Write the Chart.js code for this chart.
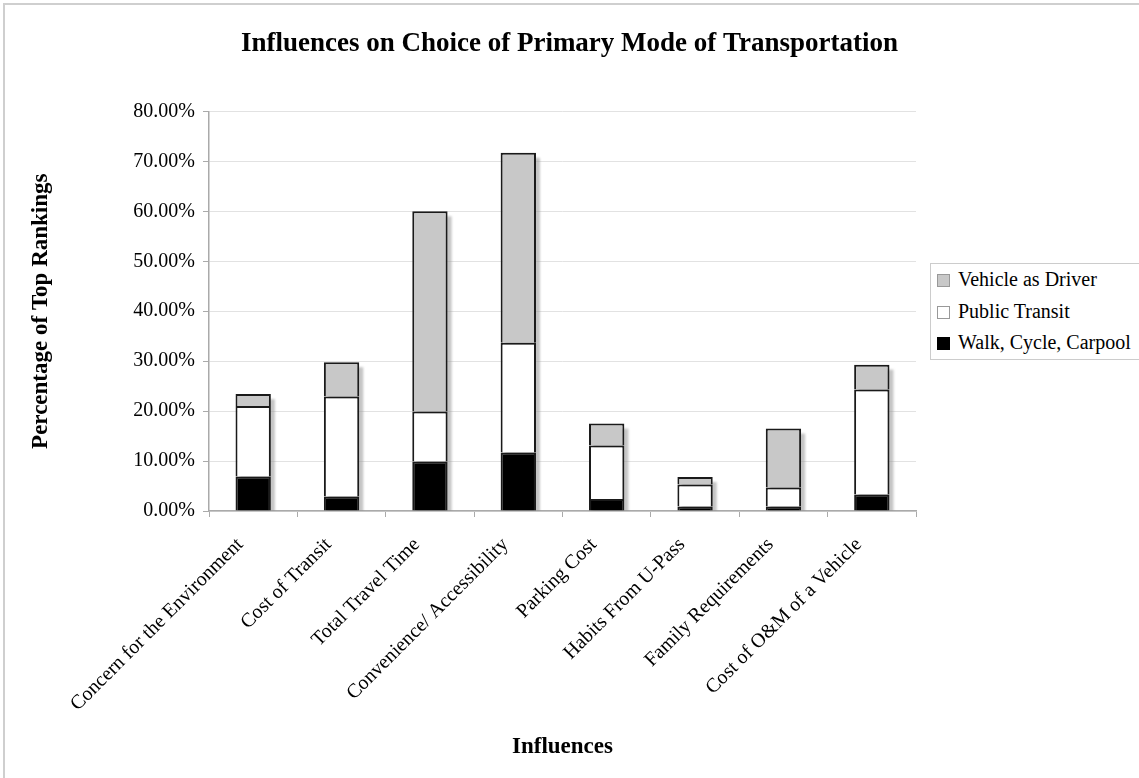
<!DOCTYPE html>
<html>
<head>
<meta charset="utf-8">
<script src="https://cdn.jsdelivr.net/npm/chart.js@4/dist/chart.umd.min.js"></script>
<style>
  html, body { margin: 0; padding: 0; background: #ffffff; }
  #wrap { position: relative; width: 1139px; height: 778px; overflow: hidden; background: #fff; }
  #frame { position: absolute; left: 3px; top: 3px; width: 1200px; height: 900px;
           border-left: 2px solid #cfcfcf; border-top: 2px solid #cfcfcf; }
  canvas { position: absolute; left: 0; top: 0; }
  #legend { position: absolute; left: 930px; top: 263px; width: 240px; height: 95px;
            border: 1px solid #cccccc; background: #fff;
            font-family: "Liberation Serif", "Times New Roman", serif; font-size: 20px; color: #000; }
  #legend .item { position: absolute; left: 6px; height: 22px; line-height: 22px; white-space: nowrap; }
  #legend .box { display: inline-block; width: 13px; height: 13px; vertical-align: -1px; margin-right: 8px; box-sizing: border-box; }
</style>
</head>
<body>
<div id="wrap">
  <div id="frame"></div>
  <canvas id="c" width="1139" height="778"></canvas>
  <div id="legend"></div>
</div>
<script>
// Influence categories on the x axis
const categories = [
  'Concern for the Environment',
  'Cost of Transit',
  'Total Travel Time',
  'Convenience/ Accessibility',
  'Parking Cost',
  'Habits From U-Pass',
  'Family Requirements',
  'Cost of O&M of a Vehicle'
];

// Share of top rankings (percent) per mode, stacked bottom to top
const walkCycleCarpool = [6.9, 2.9, 9.9, 11.7, 2.4, 0.9, 0.9, 3.3];
const publicTransit    = [14.1, 20.0, 10.0, 22.0, 10.7, 4.4, 3.8, 21.0];
const vehicleAsDriver  = [2.4, 6.9, 40.1, 38.0, 4.4, 1.5, 11.8, 5.0];

// Value axis ticks
const yTicks = [0, 10, 20, 30, 40, 50, 60, 70, 80];

const serif = '"Liberation Serif", "Times New Roman", serif';

// Soft drop shadow behind each stacked column
const columnShadow = {
  id: 'columnShadow',
  beforeDatasetsDraw(chart) {
    const ctx = chart.ctx;
    const metas = chart.data.datasets.map((d, i) => chart.getDatasetMeta(i));
    const area = chart.chartArea;
    ctx.save();
    ctx.beginPath();
    ctx.rect(area.left, area.top, area.right - area.left + 10, area.bottom - area.top);
    ctx.clip();
    ctx.fillStyle = 'rgba(150,150,150,0.55)';
    ctx.filter = 'blur(1px)';
    categories.forEach((c, i) => {
      let top = Infinity, base = -Infinity, x = 0, w = 0;
      metas.forEach(m => {
        const el = m.data[i];
        if (!el) return;
        top = Math.min(top, el.y, el.base);
        base = Math.max(base, el.y, el.base);
        x = el.x; w = el.width;
      });
      ctx.fillRect(x - w / 2 + 4, top + 5, w, base - top);
    });
    ctx.restore();
  }
};

// Centre the chart title across the whole canvas rather than the plot side only
const centreTitle = {
  id: 'centreTitle',
  afterLayout(chart) {
    const t = chart.titleBlock;
    if (t) { t.left = 0; t.right = chart.width; t.width = chart.width; }
  }
};

const chart = new Chart(document.getElementById('c'), {
  type: 'bar',
  data: {
    labels: categories,
    datasets: [
      { label: 'Walk, Cycle, Carpool', data: walkCycleCarpool, backgroundColor: '#000000', borderColor: '#1a1a1a', borderWidth: 2 },
      { label: 'Public Transit', data: publicTransit, backgroundColor: '#ffffff', borderColor: '#1a1a1a', borderWidth: 2 },
      { label: 'Vehicle as Driver', data: vehicleAsDriver, backgroundColor: '#c8c8c8', borderColor: '#1a1a1a', borderWidth: 2 }
    ]
  },
  options: {
    responsive: false,
    animation: false,
    devicePixelRatio: 1,
    barPercentage: 0.4,
    categoryPercentage: 1.0,
    layout: { padding: { left: 0, right: 223, top: 0, bottom: 0 } },
    plugins: {
      legend: { display: false },
      tooltip: { enabled: false },
      title: {
        display: true,
        text: 'Influences on Choice of Primary Mode of Transportation',
        color: '#000',
        font: { family: serif, size: 27, weight: 'bold' },
        padding: { top: 28, bottom: 51 }
      }
    },
    scales: {
      x: {
        stacked: true,
        grid: { display: true, drawOnChartArea: false, drawTicks: true, tickLength: 6, offset: true, color: '#aaaaaa', lineWidth: 1 },
        border: { display: true, color: '#aaaaaa', width: 1.5 },
        ticks: { color: '#000', font: { family: serif, size: 20 }, maxRotation: 45, minRotation: 45, padding: 16, labelOffset: -13, autoSkip: false },
        title: { display: true, text: 'Influences', color: '#000', font: { family: serif, size: 23, weight: 'bold' }, padding: { top: 0, bottom: 17 } },
        afterFit(scale) { scale.height = 267; }
      },
      y: {
        stacked: true,
        min: 0,
        max: 80,
        afterBuildTicks(scale) { scale.ticks = yTicks.map(v => ({ value: v })); },
        grid: { color: '#e2e2e2', lineWidth: 1, tickLength: 6, tickColor: '#aaaaaa' },
        border: { display: true, color: '#aaaaaa', width: 1.5 },
        ticks: { color: '#000', font: { family: serif, size: 20 }, padding: 8,
                 callback: v => Number(v).toFixed(2) + '%' },
        title: { display: true, text: 'Percentage of Top Rankings', color: '#000', font: { family: serif, size: 23, weight: 'bold' }, padding: { top: 27, bottom: 0 } },
        afterFit(scale) { scale.width = 209; }
      }
    }
  },
  plugins: [columnShadow, centreTitle]
});

// Legend built from the chart's datasets, top series first
const legendEl = document.getElementById('legend');
const legendBorders = ['#000000', '#999999', '#999999'];
chart.data.datasets.slice().reverse().forEach((ds, k) => {
  const idx = chart.data.datasets.length - 1 - k;
  const item = document.createElement('div');
  item.className = 'item';
  item.style.top = (4 + k * 31.7) + 'px';
  const box = document.createElement('span');
  box.className = 'box';
  box.style.background = ds.backgroundColor;
  box.style.border = '1px solid ' + legendBorders[idx];
  item.appendChild(box);
  item.appendChild(document.createTextNode(ds.label));
  legendEl.appendChild(item);
});
</script>
</body>
</html>
